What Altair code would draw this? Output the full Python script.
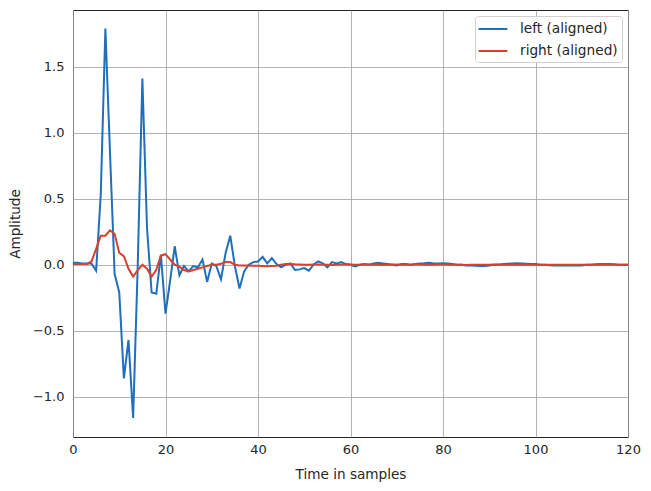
import altair as alt
import pandas as pd

samples = list(range(0, 121))

left_aligned = [
    0.015, 0.015, 0.01, 0.01, 0.01, -0.045, 0.53, 1.79, 0.85, -0.07,
    -0.21, -0.86, -0.57, -1.16, 0.0, 1.41, 0.28, -0.21, -0.22, 0.075,
    -0.37, -0.12, 0.14, -0.08, -0.01, -0.05, -0.01, -0.02, 0.04, -0.13,
    0.01, -0.01, -0.11, 0.09, 0.22, -0.01, -0.18, -0.05, 0.0, 0.02,
    0.025, 0.06, 0.01, 0.05, 0.005, -0.02, 0.0, 0.01, -0.04, -0.035,
    -0.025, -0.045, 0.0, 0.025, 0.01, -0.02, 0.02, 0.01, 0.02, 0.005,
    0.0, -0.012, 0.0, 0.005, 0.0, 0.01, 0.015, 0.01, 0.005, 0.0,
    -0.005, 0.005, 0.005, 0.0, 0.005, 0.01, 0.012, 0.015, 0.01, 0.01,
    0.012, 0.01, 0.005, 0.0, 0.0, -0.005, -0.005, -0.008, -0.01, -0.01,
    -0.005, 0.0, 0.0, 0.005, 0.008, 0.01, 0.012, 0.01, 0.008, 0.005,
    0.005, 0.0, 0.0, -0.003, -0.005, -0.005, -0.005, -0.005, -0.003, -0.005,
    -0.005, 0.0, 0.0, 0.003, 0.005, 0.005, 0.005, 0.003, 0.0, 0.0,
    0.0,
]

right_aligned = [
    0.005, 0.005, 0.005, 0.005, 0.025, 0.12, 0.22, 0.22, 0.26, 0.235,
    0.09, 0.065, -0.03, -0.09, -0.04, 0.0, -0.03, -0.09, -0.04, 0.07,
    0.08, 0.04, 0.0, -0.015, -0.04, -0.05, -0.04, -0.03, -0.02, -0.01,
    0.0, 0.0, 0.008, 0.02, 0.02, 0.0, -0.005, -0.005, -0.005, -0.008,
    -0.008, -0.01, -0.012, -0.01, -0.008, 0.0, 0.005, 0.005, 0.003, 0.002,
    0.0, 0.0, 0.001, 0.002, 0.001, 0.0, -0.001, 0.0, 0.002, 0.002,
    0.001, 0.0, 0.0, 0.001, 0.001, 0.0, 0.0, -0.001, 0.0, 0.001,
    0.001, 0.0, 0.0, 0.0, 0.001, 0.001, 0.0, 0.0, 0.0, 0.001,
    0.001, 0.0, 0.0, 0.0, 0.0, -0.001, 0.0, 0.0, 0.0, 0.0,
    0.0, 0.001, 0.001, 0.0, 0.0, 0.0, 0.0, 0.0, 0.0, 0.0,
    0.0, 0.0, 0.0, 0.0, 0.0, 0.0, 0.0, 0.0, 0.0, 0.0,
    0.0, 0.0, 0.0, 0.0, 0.0, 0.0, 0.0, 0.0, 0.0, 0.0,
    0.0,
]

series_names = ["left (aligned)", "right (aligned)"]
series_colors = ["#1f6fbb", "#d9412d"]

df = pd.concat([
    pd.DataFrame({"t": samples, "amp": left_aligned, "series": series_names[0]}),
    pd.DataFrame({"t": samples, "amp": right_aligned, "series": series_names[1]}),
])

FONT = "DejaVu Sans"
TXT = "#262626"

chart = alt.Chart(df).mark_line(strokeWidth=2, clip=True).encode(
    x=alt.X("t:Q", title="Time in samples",
            scale=alt.Scale(domain=[0, 120], nice=False, zero=False),
            axis=alt.Axis(values=[0, 20, 40, 60, 80, 100, 120], labelPadding=6,
                          titlePadding=11, labelFlush=False)),
    y=alt.Y("amp:Q", title="Amplitude",
            scale=alt.Scale(domain=[-1.305, 1.93], nice=False, zero=False),
            axis=alt.Axis(values=[-1.0, -0.5, 0.0, 0.5, 1.0, 1.5], format=".1f",
                          labelPadding=9, titlePadding=10, labelFlush=False)),
    color=alt.Color("series:N",
                    scale=alt.Scale(domain=series_names, range=series_colors),
                    legend=alt.Legend(title=None, orient="top-right", offset=6,
                                      symbolType="M-1.8,0H1.8", symbolSize=256,
                                      symbolStrokeWidth=2, rowPadding=6,
                                      symbolOffset=5,
                                      labelFontSize=13.7, labelFont=FONT,
                                      labelColor=TXT, padding=4,
                                      fillColor="white", strokeColor="#d0d0d0",
                                      cornerRadius=3, labelOffset=18)),
).properties(
    width=555, height=427,
    padding={"left": 73, "top": 10, "right": 23, "bottom": 54},
    autosize=alt.AutoSizeParams(type="none"),
).configure_view(
    stroke="#262626", strokeWidth=1,
).configure_axis(
    domain=False, ticks=False, grid=True, gridColor="#a0a0a0", gridWidth=0.8,
    labelFont=FONT, labelFontSize=13, labelColor=TXT,
    titleFont=FONT, titleFontSize=13.6, titleColor=TXT, titleFontWeight="normal",
)

chart.save("out.html", embed_options={"renderer": "svg", "actions": False})
